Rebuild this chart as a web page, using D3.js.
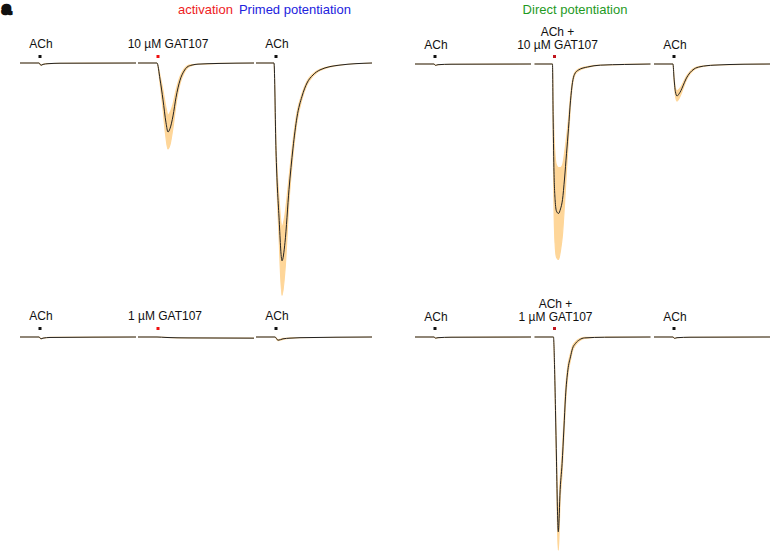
<!DOCTYPE html>
<html>

<head>
    <meta charset="UTF-8">
    <title>GAT107 traces</title>
    <script src="https://d3js.org/d3.v7.min.js"></script>
    <style>
        body { margin: 0; background: #fff; }
        svg { display: block; font-family: "Liberation Sans", Arial, sans-serif; }
    </style>
</head>

<body>
    <svg id="chart" width="772" height="551"></svg>
    <script>
        // ---- data: [time (s), mean current (uA), sem (uA)] for each sweep ----
        // primed potentiation, 10 uM GAT107
        var p10_ach1 = [[0, 0, 0], [9.5, 0, 0], [10.5, -0.1, 0], [11.5, -0.06, 0], [14, -0.03, 0], [20, -0.01, 0], [58, 0, 0]];
        var p10_gat = [[0, 0, 0], [9.5, 0, 0], [11, -0.7, 0.15], [12.5, -1.6, 0.4], [14, -2.6, 0.65], [15, -3.0, 0.74],
            [16, -2.85, 0.7], [17.5, -2.3, 0.5], [19, -1.5, 0.3], [21, -0.75, 0.15], [23, -0.35, 0.08],
            [24.5, -0.18, 0.05], [27, -0.09, 0.02], [30, -0.05, 0], [40, -0.02, 0], [58, 0, 0]];
        var p10_ach2 = [[0, 0, 0], [9, 0, 0], [10, -3.8, 0.3], [11.5, -6.7, 0.8], [13, -8.6, 1.5], [14.5, -7.8, 1.2],
            [16.5, -5.5, 0.5], [18.5, -3.7, 0.3], [20.5, -2.35, 0.2], [23, -1.45, 0.12], [25.5, -0.87, 0.08],
            [28.5, -0.52, 0.05], [32, -0.3, 0.03], [42, -0.09, 0], [58, 0, 0]];

        // direct potentiation, ACh + 10 uM GAT107
        var d10_ach1 = [[0, 0, 0], [9.5, 0, 0], [10.3, -0.06, 0], [11.5, -0.03, 0], [18, -0.01, 0], [58, 0, 0]];
        var d10_gat = [[0, 0, 0], [9, 0, 0], [9.3, -2.2, 0.6], [9.7, -4.5, 1.5], [10.3, -5.9, 1.9], [11, -6.4, 2.0],
            [12, -6.5, 2.0], [13, -6.3, 1.8], [14, -5.9, 1.5], [15, -5.0, 1.1], [16, -3.9, 0.7], [17, -2.8, 0.4],
            [18, -1.6, 0.2], [19, -0.8, 0.1], [20, -0.45, 0.06], [22, -0.26, 0.04], [26.5, -0.13, 0.02],
            [33, -0.05, 0], [45, -0.02, 0], [58, 0, 0]];
        var d10_ach2 = [[0, 0, 0], [9.5, 0, 0], [10, -0.6, 0.05], [10.7, -1.2, 0.15], [11.5, -1.39, 0.22],
            [12.5, -1.3, 0.2], [13.5, -1.15, 0.16], [14.5, -0.95, 0.12], [16, -0.65, 0.08], [18, -0.38, 0.05],
            [20, -0.22, 0.03], [23, -0.12, 0.02], [30, -0.05, 0], [45, -0.01, 0], [58, 0, 0]];

        // primed potentiation, 1 uM GAT107
        var p1_ach1 = [[0, 0, 0], [9.5, 0, 0], [10.5, -0.08, 0], [11.5, -0.05, 0], [15, -0.02, 0], [58, 0, 0]];
        var p1_gat = [[0, 0, 0], [9.5, 0, 0], [14, -0.02, 0], [25, -0.04, 0], [58, -0.05, 0]];
        var p1_ach2 = [[0, 0, 0], [9.5, 0, 0], [11, -0.14, 0.02], [13.5, -0.08, 0.02], [17, -0.05, 0.01],
            [22, -0.03, 0], [58, 0, 0]];

        // direct potentiation, ACh + 1 uM GAT107
        var d1_ach1 = [[0, 0, 0], [9.5, 0, 0], [10.3, -0.05, 0], [11.5, -0.03, 0], [18, -0.01, 0], [58, 0, 0]];
        var d1_gat = [[0, 0, 0], [9.5, 0, 0], [10, -1.2, 0.1], [10.5, -3.2, 0.2], [11, -5.4, 0.35], [11.5, -7.6, 0.6],
            [11.9, -8.47, 0.8], [12.3, -7.9, 0.6], [12.7, -6.9, 0.45], [13.8, -5.5, 0.4], [14.7, -4.0, 0.35],
            [15.5, -2.6, 0.3], [16.7, -1.43, 0.2], [18, -0.86, 0.14], [19, -0.5, 0.1], [20.5, -0.28, 0.07],
            [22.5, -0.12, 0.04], [25, -0.04, 0.02], [35, -0.01, 0], [58, 0, 0]];
        var d1_ach2 = [[0, 0, 0], [9.5, 0, 0], [10.3, -0.06, 0], [11.5, -0.03, 0], [18, -0.01, 0], [58, 0, 0]];

        // application time (s) of each drug pulse within a sweep
        var pulseTime = 10;

        // labels over each sweep
        var labelsP10 = [["ACh"], ["10 µM GAT107"], ["ACh"]];
        var labelsD10 = [["ACh"], ["ACh +", "10 µM GAT107"], ["ACh"]];
        var labelsP1 = [["ACh"], ["1 µM GAT107"], ["ACh"]];
        var labelsD1 = [["ACh"], ["ACh +", "1 µM GAT107"], ["ACh"]];
        var pulseKind = ["ach", "gat", "ach"];

        // ---- layout ----
        var svg = d3.select("#chart");
        var bandColor = "#fed699";
        var traceColor = "#222";

        var panels = [
            { x0: 20, step: 118, base: 63, labelDy: -15, dotDy: -8, traces: [p10_ach1, p10_gat, p10_ach2], labels: labelsP10, gatDx: 10, gatColor: "#f01010" },
            { x0: 415, step: 119.5, base: 64, labelDy: -15, dotDy: -9, traces: [d10_ach1, d10_gat, d10_ach2], labels: labelsD10, gatDx: 3, gatColor: "#c0161e" },
            { x0: 20, step: 118, base: 337, labelDy: -17, dotDy: -10, traces: [p1_ach1, p1_gat, p1_ach2], labels: labelsP1, gatDx: 7, gatColor: "#f01010" },
            { x0: 415, step: 119.5, base: 337, labelDy: -16.5, dotDy: -10, traces: [d1_ach1, d1_gat, d1_ach2], labels: labelsD1, gatDx: 1, gatColor: "#c0161e" }
        ];

        panels.forEach(function (p) {
            // same current scale for every panel: 23 px per uA
            var y = d3.scaleLinear().domain([-10, 0]).range([p.base + 230, p.base]);
            var g = svg.append("g");

            p.traces.forEach(function (tr, i) {
                var x0 = p.x0 + i * p.step;
                var x = d3.scaleLinear().domain([0, 58]).range([x0, x0 + 116]);

                var area = d3.area()
                    .curve(d3.curveMonotoneX)
                    .x(function (d) { return x(d[0]); })
                    .y0(function (d) { return y(d[1] - d[2]); })
                    .y1(function (d) { return y(d[1] + d[2]); });
                var line = d3.line()
                    .curve(d3.curveMonotoneX)
                    .x(function (d) { return x(d[0]); })
                    .y(function (d) { return y(d[1]); });

                g.append("path").datum(tr)
                    .attr("d", area)
                    .attr("fill", bandColor)
                    .attr("stroke", bandColor)
                    .attr("stroke-width", 1.2);
                g.append("path").datum(tr)
                    .attr("d", line)
                    .attr("fill", "none")
                    .attr("stroke", traceColor)
                    .attr("stroke-width", 1);

                // pulse marker
                var isGat = pulseKind[i] === "gat";
                g.append("rect")
                    .attr("x", x(pulseTime) - 1.5)
                    .attr("y", p.base + p.dotDy)
                    .attr("width", 3)
                    .attr("height", 3)
                    .attr("fill", isGat ? p.gatColor : "#111");

                // label text (one or two lines)
                var lines = p.labels[i];
                var cx = x(pulseTime) + (isGat ? p.gatDx : 1);
                lines.forEach(function (s, k) {
                    g.append("text")
                        .attr("x", cx)
                        .attr("y", p.base + p.labelDy - (lines.length - 1 - k) * 13)
                        .attr("text-anchor", "middle")
                        .attr("font-size", 12)
                        .attr("fill", "#111")
                        .text(s);
                });
            });
        });

        // ---- headings ----
        var head = svg.append("text")
            .attr("x", 178)
            .attr("y", 14)
            .attr("font-size", 13);
        head.append("tspan").attr("fill", "#ee1c24").text("activation");
        head.append("tspan").attr("fill", "#2222dd").attr("dx", 6).text("Primed potentiation");

        svg.append("text")
            .attr("x", 575)
            .attr("y", 14)
            .attr("text-anchor", "middle")
            .attr("font-size", 13)
            .attr("fill", "#1f9a1f")
            .text("Direct potentiation");

        // panel letter
        svg.append("text")
            .attr("x", 6.5).attr("y", 14)
            .attr("text-anchor", "middle")
            .attr("font-size", 17)
            .attr("font-weight", "bold")
            .attr("fill", "#111")
            .attr("stroke", "#111")
            .attr("stroke-width", 2.5)
            .text("a");
    </script>
</body>

</html>
